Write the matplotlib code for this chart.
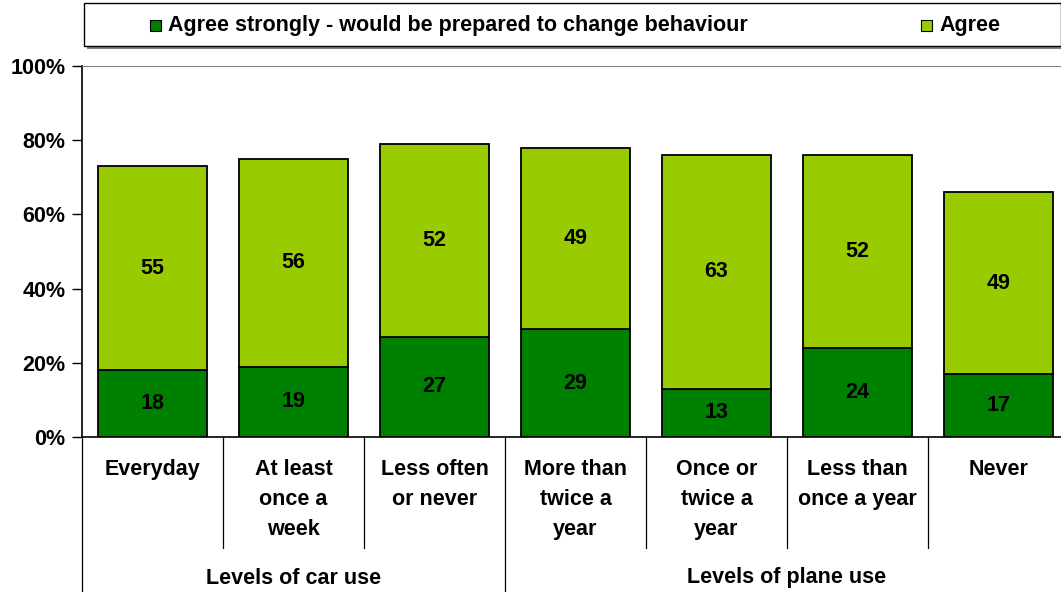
import matplotlib
matplotlib.use("Agg")
import matplotlib.pyplot as plt
from matplotlib.patches import Rectangle
from matplotlib.lines import Line2D

categories = ["Everyday", "At least\nonce a\nweek", "Less often\nor never",
              "More than\ntwice a\nyear", "Once or\ntwice a\nyear", "Less than\nonce a year", "Never"]
groups = ["Levels of car use", "Levels of plane use"]
group_sizes = [3, 4]
agree_strongly = [18, 19, 27, 29, 13, 24, 17]
agree = [55, 56, 52, 49, 63, 52, 49]
series_names = ["Agree strongly - would be prepared to change behaviour", "Agree"]
dark = "#008000"
light = "#99CC00"

FS = 15.5
plt.rcParams['font.family'] = ['Liberation Sans', 'DejaVu Sans']
W, H = 1061, 592
fig = plt.figure(figsize=(W/100, H/100), dpi=100)
left_px, right_px, top_px, bot_px = 82, 1069, 66, 437
ax = fig.add_axes([left_px/W, (H-bot_px)/H, (right_px-left_px)/W, (bot_px-top_px)/H])

x = list(range(len(categories)))
bw = 0.77
ax.bar(x, agree_strongly, bw, color=dark, edgecolor="black", linewidth=1.3, zorder=3)
ax.bar(x, agree, bw, bottom=agree_strongly, color=light, edgecolor="black", linewidth=1.3, zorder=3)
for i in x:
    ax.text(i, agree_strongly[i]/2, str(agree_strongly[i]), ha="center", va="center",
            fontsize=FS, fontweight="bold", zorder=4)
    ax.text(i, agree_strongly[i] + agree[i]/2, str(agree[i]), ha="center", va="center",
            fontsize=FS, fontweight="bold", zorder=4)

ax.set_xlim(-0.5, len(categories) - 0.5)
ax.set_ylim(0, 100)
ticks = [0, 20, 40, 60, 80, 100]
ax.set_yticks(ticks)
ax.set_yticklabels([f"{v}%" for v in ticks], fontsize=FS, fontweight="bold")
ax.tick_params(axis="y", direction="out", length=7, width=1, pad=5)
ax.set_xticks([])
ax.spines["right"].set_visible(False)
ax.spines["top"].set_color("#808080")
ax.spines["left"].set_linewidth(1.2)
ax.spines["bottom"].set_linewidth(1.2)

def ypx(py):
    return (bot_px - py) / (bot_px - top_px) * 100

for i, c in enumerate(categories):
    ax.text(i, ypx(459), c, ha="center", va="top", fontsize=FS, fontweight="bold",
            linespacing=1.55, clip_on=False)

boundaries = []
acc = 0
for g in group_sizes:
    boundaries.append(acc)
    acc += g
boundaries.append(acc)
for i in range(1, len(categories)):
    if i in boundaries:
        continue
    ax.add_line(Line2D([i - 0.5, i - 0.5], [0, ypx(548)], color="black", linewidth=0.9, clip_on=False))
for b in boundaries:
    ax.add_line(Line2D([b - 0.5, b - 0.5], [0, ypx(600)], color="black", linewidth=0.9, clip_on=False))

start = 0
for g, n in zip(groups, group_sizes):
    ax.text(start + (n - 1) / 2, ypx(578), g, ha="center", va="center", fontsize=FS,
            fontweight="bold", clip_on=False)
    start += n

lx0, lx1, ly0, ly1 = 84, 1061, 3, 46
shadow = Rectangle(((lx0+3)/W, 1-(ly1+3)/H), (lx1-lx0)/W, (ly1-ly0)/H, transform=fig.transFigure,
                   facecolor="#808080", edgecolor="none", zorder=1)
box = Rectangle((lx0/W, 1-ly1/H), (lx1-lx0)/W, (ly1-ly0)/H, transform=fig.transFigure,
                facecolor="white", edgecolor="black", linewidth=1, zorder=2)
fig.patches.extend([shadow, box])
ycen = 1 - 25/H
for (px, name, col) in [(150, series_names[0], dark), (921, series_names[1], light)]:
    fig.patches.append(Rectangle((px/W, ycen - 6/H), 11/W, 11/H, transform=fig.transFigure,
                                 facecolor=col, edgecolor="black", linewidth=0.8, zorder=3))
    fig.text((px + 18)/W, ycen, name, ha="left", va="center", fontsize=FS, fontweight="bold", zorder=4)

fig.savefig("out.png", dpi=100)
